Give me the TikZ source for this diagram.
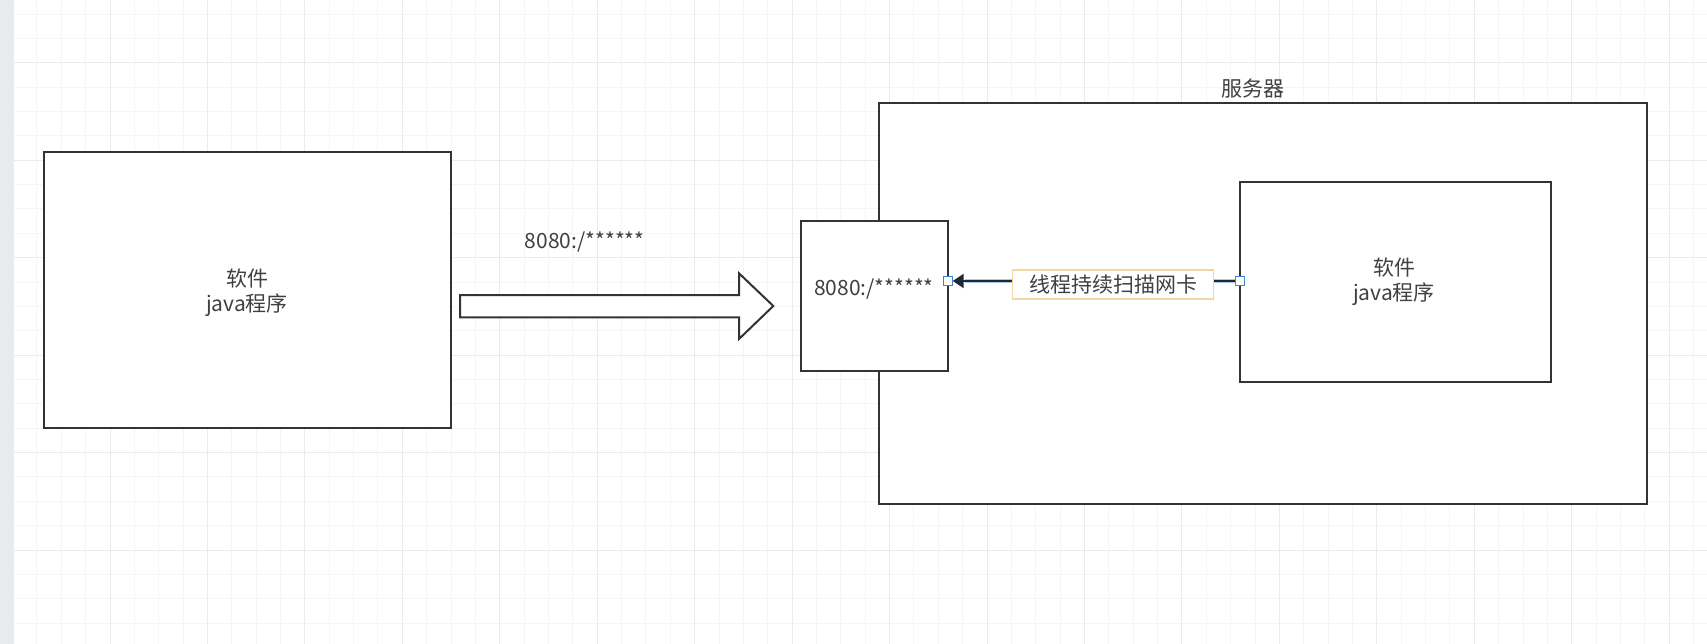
\documentclass[tikz,border=0pt]{standalone}
\usepackage{fontspec}
\setmainfont{Noto Sans CJK SC}
\usetikzlibrary{arrows.meta}
\definecolor{gridminor}{HTML}{F5F5F5}
\definecolor{gridmajor}{HTML}{EBEBEB}
\definecolor{strip}{HTML}{E8EBED}
\definecolor{ink}{HTML}{333333}
\definecolor{txt}{HTML}{404040}
\definecolor{handle}{HTML}{3D85D8}
\definecolor{glow}{HTML}{A9C8EE}
\definecolor{editbox}{HTML}{F3D7A2}
\definecolor{conn}{HTML}{1E2733}
\tikzset{
  box/.style={draw=ink, line width=2pt, fill=white, rectangle, inner sep=0pt},
  txtstyle/.style={text=txt, font=\fontsize{21}{25}\selectfont, align=center, inner sep=0pt},
  handlebox/.style={draw=handle, fill=white, line width=1pt, rectangle, minimum size=9pt, inner sep=0pt},
  connector/.style={draw=conn, line width=2.2pt, -{Triangle[length=11pt,width=14pt]}},
  glowline/.style={draw=glow, line width=4.5pt},
  editlabel/.style={draw=editbox, fill=white, line width=1.2pt, minimum width=201pt, minimum height=29pt, inner sep=0pt, text=txt, font=\fontsize{21}{25}\selectfont}
}
\begin{document}
\begin{tikzpicture}[x=1pt,y=-1pt]
\useasboundingbox (0,0) rectangle (1707,644);
\fill[white] (0,0) rectangle (1707,644);
% grid
\foreach \i in {1,...,69} \draw[gridminor, line width=1pt] ({12.55+24.3625*\i},0) -- ++(0,644);
\foreach \i in {1,...,28} \draw[gridminor, line width=1pt] (14,{-34.7+24.3625*\i}) -- ++(1693,0);
\foreach \i in {0,...,17} \draw[gridmajor, line width=1pt] ({12.55+97.45*\i},0) -- ++(0,644);
\foreach \i in {1,...,7} \draw[gridmajor, line width=1pt] (14,{-34.7+97.45*\i}) -- ++(1693,0);
\fill[strip] (0,0) rectangle (14,644);

% left software box
\node[box, minimum width=407pt, minimum height=275.5pt] (client) at (247.1,290.2) {};
\node[txtstyle] (clienttext) at (247,292.5) {软件\\java程序};

% server box
\node[box, minimum width=768.6pt, minimum height=400.7pt] (server) at (1262.9,303.8) {};
\node[txtstyle, anchor=center] (servertitle) at (1252.5,88.3) {服务器};

% port box
\node[box, minimum width=147pt, minimum height=150.5pt] (port) at (874,296.2) {};
\node[txtstyle] (porttext) at (874,289) {8080:/******};

% inner software box
\node[box, minimum width=311.4pt, minimum height=200.3pt] (app) at (1395.7,282) {};
\node[txtstyle] (apptext) at (1394,281.5) {软件\\java程序};

% big arrow
\draw[ink, fill=white, line width=2pt, line join=miter]
  (460,295) -- (739,295) -- (739,273.3) -- (773.3,306) -- (739,339) -- (739,317.3) -- (460,317.3) -- cycle;
\node[txtstyle] (arrowtext) at (584.7,241.7) {8080:/******};

% connector with handles
\node[handlebox] (hport) at (947.7,281) {};
\node[handlebox] (happ) at (1240,281) {};
\draw[glowline] (happ) -- ([xshift=12pt]hport.east);
\draw[connector] (happ) -- node[editlabel, pos=0.432, yshift=-3.5pt] (scan) {线程持续扫描网卡} (hport);
\end{tikzpicture}
\end{document}
